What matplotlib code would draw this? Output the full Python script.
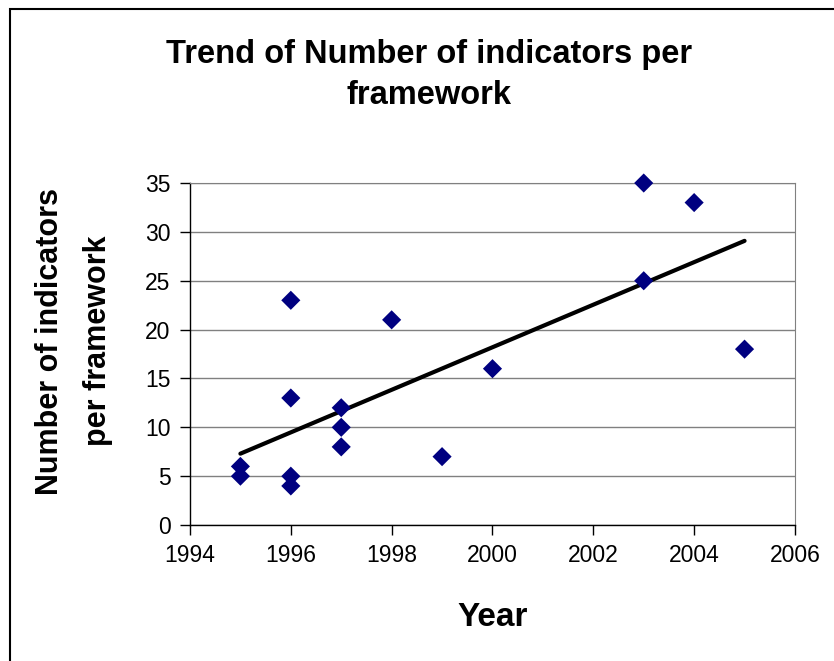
import numpy as np
import matplotlib
matplotlib.use("Agg")
import matplotlib.pyplot as plt
from matplotlib.patches import Rectangle

# one point per framework: publication year, number of indicators
years = [1995, 1995, 1996, 1996, 1996, 1996, 1997, 1997, 1997,
         1998, 1999, 2000, 2003, 2003, 2004, 2005]
indicators = [6, 5, 23, 13, 5, 4, 12, 10, 8,
              21, 7, 16, 35, 25, 33, 18]
x_ticks = [1994, 1996, 1998, 2000, 2002, 2004, 2006]
y_ticks = [0, 5, 10, 15, 20, 25, 30, 35]

plt.rcParams["font.family"] = ["Liberation Sans", "DejaVu Sans"]

fig = plt.figure(figsize=(8.34, 6.61), dpi=100)
ax = fig.add_axes([0.2278, 0.2057, 0.7254, 0.5174])

# outer chart frame (cut off at right/bottom like the original)
fig.patches.append(Rectangle((10 / 834, -0.1), 1.2, 1 - 9 / 661 + 0.1,
                             transform=fig.transFigure, fill=False,
                             edgecolor="black", lw=1.5))

ax.scatter(years, indicators, marker="D", s=95, color="#000080", zorder=3,
           edgecolors="none", clip_on=False)

# linear trend line over the data range
xs = np.array(years, float)
k, b = np.polyfit(xs, indicators, 1)
xl = np.array([min(years), max(years)], float)
ax.plot(xl, k * xl + b, color="black", lw=3, zorder=2, solid_capstyle="round")

ax.set_xlim(1994, 2006)
ax.set_ylim(0, 35)
ax.set_xticks(x_ticks)
ax.set_yticks(y_ticks)
ax.tick_params(labelsize=16.5, length=7, width=1, direction="out", pad=7)
ax.yaxis.grid(True, color="#808080", lw=1)
ax.set_axisbelow(True)
for s in ("top", "right"):
    ax.spines[s].set_color("#808080")
ax.spines["left"].set_linewidth(1)
ax.spines["bottom"].set_linewidth(1)

fig.text(429 / 834, 1 - 75 / 661, "Trend of Number of indicators per\nframework",
         ha="center", va="center", fontsize=23.5, fontweight="bold", linespacing=1.4)
fig.text(74 / 834, 1 - 341 / 661, "Number of indicators\nper framework",
         ha="center", va="center", rotation=90, fontsize=22, fontweight="bold",
         linespacing=1.75)
fig.text(493 / 834, 1 - 617 / 661, "Year", ha="center", va="center",
         fontsize=24, fontweight="bold")

fig.savefig("out.png", dpi=100)
